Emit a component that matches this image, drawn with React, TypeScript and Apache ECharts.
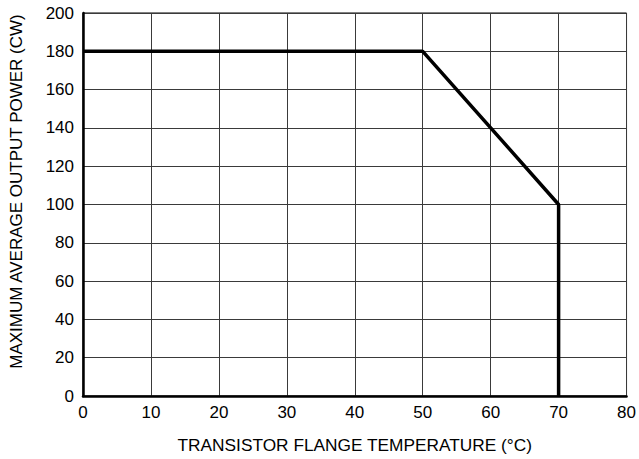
import React, { useEffect, useRef } from "react";
import * as echarts from "echarts";

const temperature: number[] = [0, 50, 70, 70];
const power: number[] = [180, 180, 100, 0];
const xTicks = { min: 0, max: 80, interval: 10 };
const yTicks = { min: 0, max: 200, interval: 20 };
const xName = "TRANSISTOR FLANGE TEMPERATURE (°C)";
const yName = "MAXIMUM AVERAGE OUTPUT POWER (CW)";

export default function App() {
  const ref = useRef<HTMLDivElement>(null);
  useEffect(() => {
    if (!ref.current) return;
    const chart = echarts.init(ref.current, undefined, { renderer: "svg" });
    const font = "'Liberation Sans', Arial, sans-serif";
    chart.setOption({
      animation: false,
      backgroundColor: "#ffffff",
      grid: { left: 83, right: 9, top: 13, bottom: 63, show: true, borderColor: "#000", borderWidth: 1 },
      xAxis: {
        type: "value",
        min: xTicks.min,
        max: xTicks.max,
        interval: xTicks.interval,
        name: xName,
        nameLocation: "middle",
        nameGap: 40,
        nameTextStyle: { fontFamily: font, fontSize: 17.3, color: "#000" },
        axisLine: { show: true, lineStyle: { color: "#000", width: 2.5 } },
        axisTick: { show: false },
        axisLabel: { fontFamily: font, fontSize: 17, color: "#000", margin: 8 },
        splitLine: { show: true, lineStyle: { color: "#3a3a3a", width: 1 } },
      },
      yAxis: {
        type: "value",
        min: yTicks.min,
        max: yTicks.max,
        interval: yTicks.interval,
        name: yName,
        nameLocation: "middle",
        nameGap: 58,
        nameTextStyle: { fontFamily: font, fontSize: 17, color: "#000", padding: [0, 0, 0, 26] },
        axisLine: { show: true, lineStyle: { color: "#000", width: 2.5 } },
        axisTick: { show: false },
        axisLabel: { fontFamily: font, fontSize: 17, color: "#000", margin: 9 },
        splitLine: { show: true, lineStyle: { color: "#3a3a3a", width: 1 } },
      },
      series: [
        {
          type: "line",
          data: temperature.map((t, i) => [t, power[i]]),
          symbol: "none",
          lineStyle: { color: "#000", width: 3.5 },
          z: 5,
        },
      ],
    });
    return () => chart.dispose();
  }, []);
  return <div ref={ref} style={{ position: "fixed", left: 0, top: 0, width: 639, height: 459 }} />;
}
